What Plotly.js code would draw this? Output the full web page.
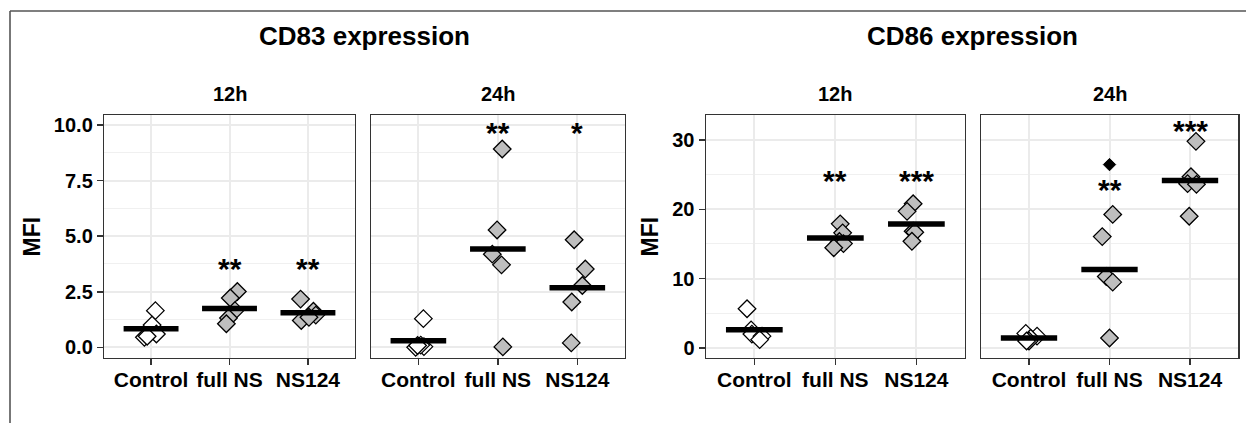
<!DOCTYPE html>
<html><head><meta charset="utf-8">
<script src="https://cdn.plot.ly/plotly-3.0.1.min.js"></script>
<style>html,body{margin:0;padding:0;background:#fff}#chart{width:1246px;height:423px}</style>
</head><body><div id="chart"></div>
<script>
// ---------- data ----------
const categories = ['Control', 'full NS', 'NS124'];
const markerTitles = ['CD83 expression', 'CD86 expression'];
const timeLabels = ['12h', '24h', '12h', '24h'];
const yTitle = 'MFI';
const cd83TickVals = [0, 2.5, 5, 7.5, 10];
const cd83TickText = ['0.0', '2.5', '5.0', '7.5', '10.0'];
const cd86TickVals = [0, 10, 20, 30];
const cd86TickText = ['0', '10', '20', '30'];

// values per group: [Control, full NS, NS124]
const cd83_12h = [[1.65, 1.0, 0.6, 0.45, 0.5], [2.51, 2.22, 1.65, 1.32, 1.06], [2.17, 1.62, 1.45, 1.21, 1.35]];
const cd83_24h = [[1.29, 0.0, 0.03, 0.1, 0.08], [8.92, 5.28, 4.19, 3.71, 0.02], [4.84, 3.52, 2.78, 2.04, 0.2]];
const cd86_12h = [[5.66, 2.6, 2.0, 1.7, 1.2], [17.9, 16.6, 15.35, 15.05, 14.45], [20.8, 19.7, 16.84, 16.68, 15.38]];
const cd86_24h = [[2.1, 1.7, 1.4, 1.0, 1.0], [19.26, 16.06, 10.3, 9.49, 1.44], [29.8, 24.7, 23.7, 23.6, 19.0]];

// horizontal jitter (category units)
const cd83_12h_jitter = [[0.055, 0.013, 0.068, -0.085, -0.05], [0.10, 0.01, 0.07, -0.013, -0.04], [-0.094, 0.07, 0.1, -0.085, 0.013]];
const cd83_24h_jitter = [[0.063, -0.034, 0.07, 0.03, -0.01], [0.055, -0.01, -0.07, 0.046, 0.063], [-0.04, 0.1, 0.063, -0.07, -0.076]];
const cd86_12h_jitter = [[-0.09, -0.04, -0.03, 0.095, 0.066], [0.06, 0.09, 0.05, 0.1, -0.02], [-0.04, -0.115, -0.04, -0.02, -0.055]];
const cd86_24h_jitter = [[-0.04, 0.1, 0.02, 0, -0.03], [0.04, -0.09, -0.04, 0.04, 0], [0.074, 0.012, -0.03, 0.08, -0.01]];

// black diamond marker in CD86 24h
const cd86_24h_flagGroup = [1];
const cd86_24h_flagValue = [26.45];

// significance labels and their heights
const cd83_12h_stars = ['', '**', '**'];
const cd83_12h_starY = [null, 3.72, 3.72];
const cd83_24h_stars = ['', '**', '*'];
const cd83_24h_starY = [null, 9.85, 9.85];
const cd86_12h_stars = ['', '**', '***'];
const cd86_12h_starY = [null, 24.7, 24.7];
const cd86_24h_stars = ['', '**', '***'];
const cd86_24h_starY = [null, 23.5, 31.9];

// ---------- build ----------
const W = 1246, H = 423;
const panelX = [[104, 355], [370.7, 625], [705.7, 965], [980.7, 1238.3]];
const panelTop = 115, panelBottom = 358;
const yDomain = [1 - panelBottom / H, 1 - panelTop / H];

const panels = [
  {vals: cd83_12h, jit: cd83_12h_jitter, stars: cd83_12h_stars, starY: cd83_12h_starY},
  {vals: cd83_24h, jit: cd83_24h_jitter, stars: cd83_24h_stars, starY: cd83_24h_starY},
  {vals: cd86_12h, jit: cd86_12h_jitter, stars: cd86_12h_stars, starY: cd86_12h_starY},
  {vals: cd86_24h, jit: cd86_24h_jitter, stars: cd86_24h_stars, starY: cd86_24h_starY}
];

const fillColors = ['#FFFFFF', '#BEBEBE', '#BEBEBE'];
const FONT = 'Liberation Sans, Arial, Helvetica, sans-serif';
const traces = [];
const annotations = [];
const layout = {
  width: W, height: H,
  margin: {l: 0, r: 0, t: 0, b: 0},
  paper_bgcolor: '#fff', plot_bgcolor: '#fff',
  showlegend: false,
  font: {family: FONT, color: '#000'},
  shapes: [
    {type: 'line', xref: 'paper', yref: 'paper', x0: 10 / W, x1: 1, y0: 1 - 11 / H, y1: 1 - 11 / H, line: {color: '#555', width: 1.6}},
    {type: 'line', xref: 'paper', yref: 'paper', x0: 10 / W, x1: 10 / W, y0: 1 - 11 / H, y1: 0, line: {color: '#555', width: 1.6}}
  ]
};

panels.forEach((p, k) => {
  const n = k + 1;
  const xa = 'x' + (n === 1 ? '' : n), ya = 'y' + (n === 1 ? '' : n);
  const isCD83 = k < 2;
  // diamonds
  p.vals.forEach((grp, g) => {
    traces.push({
      type: 'scatter', mode: 'markers', xaxis: xa, yaxis: ya,
      x: grp.map((v, i) => g + p.jit[g][i]), y: grp,
      marker: {symbol: 'diamond', size: 13.5, color: fillColors[g], line: {color: '#000', width: 1.3}},
      hoverinfo: 'y'
    });
  });
  if (k === 3) {
    traces.push({
      type: 'scatter', mode: 'markers', xaxis: xa, yaxis: ya,
      x: cd86_24h_flagGroup, y: cd86_24h_flagValue,
      marker: {symbol: 'diamond', size: 9.5, color: '#000', line: {color: '#000', width: 1}}
    });
  }
  // mean bars
  const mx = [], my = [];
  p.vals.forEach((grp, g) => {
    const m = grp.reduce((a, b) => a + b, 0) / grp.length;
    mx.push(g - 0.35, g + 0.35, null); my.push(m, m, null);
  });
  traces.push({type: 'scatter', mode: 'lines', xaxis: xa, yaxis: ya, x: mx, y: my,
    line: {color: '#000', width: 5.5}, hoverinfo: 'skip'});
  // stars
  p.stars.forEach((s, g) => {
    if (!s) return;
    annotations.push({xref: xa, yref: ya, x: g, y: p.starY[g], text: '<b>' + s + '</b>', showarrow: false,
      xanchor: 'center', yanchor: 'middle', yshift: -4, font: {family: FONT, size: 30, color: '#000'}});
  });
  // axes
  const axKey = 'xaxis' + (n === 1 ? '' : n), ayKey = 'yaxis' + (n === 1 ? '' : n);
  layout[axKey] = {
    domain: [panelX[k][0] / W, panelX[k][1] / W], anchor: ya,
    range: [-0.6, 2.6], tickmode: 'array', tickvals: [0, 1, 2], ticktext: categories,
    showgrid: true, gridcolor: '#EBEBEB', gridwidth: 2, zeroline: false,
    showline: true, mirror: true, linecolor: '#333', linewidth: 1.2,
    ticks: 'outside', ticklen: 5.5, tickwidth: 1.5, tickcolor: '#333', ticklabelstandoff: -3,
    tickfont: {family: FONT, size: 21, color: '#000', weight: 'bold'}, fixedrange: true
  };
  layout[ayKey] = {
    domain: yDomain, anchor: xa,
    range: isCD83 ? [-0.48, 10.45] : [-1.45, 33.6],
    tickmode: 'array', tickvals: isCD83 ? cd83TickVals : cd86TickVals,
    ticktext: isCD83 ? cd83TickText : cd86TickText,
    showticklabels: (k === 0 || k === 2),
    ticks: (k === 0 || k === 2) ? 'outside' : '', ticklen: 6, tickwidth: 1.5, tickcolor: '#333',
    showgrid: true, gridcolor: '#EBEBEB', gridwidth: 2, zeroline: false,
    minor: {dtick: isCD83 ? 1.25 : 5, tick0: 0, showgrid: true, gridcolor: '#F0F0F0', gridwidth: 1, ticks: ''},
    showline: true, mirror: true, linecolor: '#333', linewidth: 1.2,
    tickfont: {family: FONT, size: 20, color: '#000', weight: 'bold'}, fixedrange: true
  };
  // strip label
  annotations.push({xref: 'paper', yref: 'paper', x: (panelX[k][0] + panelX[k][1]) / 2 / W, y: 1 - 93.7 / H,
    text: '<b>' + timeLabels[k] + '</b>', showarrow: false, xanchor: 'center', yanchor: 'middle',
    font: {family: FONT, size: 20, color: '#000'}});
});

// marker titles
[[0, 1], [2, 3]].forEach((pair, i) => {
  const cx = (panelX[pair[0]][0] + panelX[pair[1]][1]) / 2 / W;
  annotations.push({xref: 'paper', yref: 'paper', x: cx, y: 1 - 36.3 / H, text: '<b>' + markerTitles[i] + '</b>',
    showarrow: false, xanchor: 'center', yanchor: 'middle', font: {family: FONT, size: 26, color: '#000'}});
});
// y titles
[31, 649].forEach(px => {
  annotations.push({xref: 'paper', yref: 'paper', x: px / W, y: (yDomain[0] + yDomain[1]) / 2, text: '<b>' + yTitle + '</b>',
    textangle: -90, showarrow: false, xanchor: 'center', yanchor: 'middle', font: {family: FONT, size: 23, color: '#000'}});
});
layout.annotations = annotations;

Plotly.newPlot('chart', traces, layout, {staticPlot: true, displayModeBar: false});
</script>
</body></html>
